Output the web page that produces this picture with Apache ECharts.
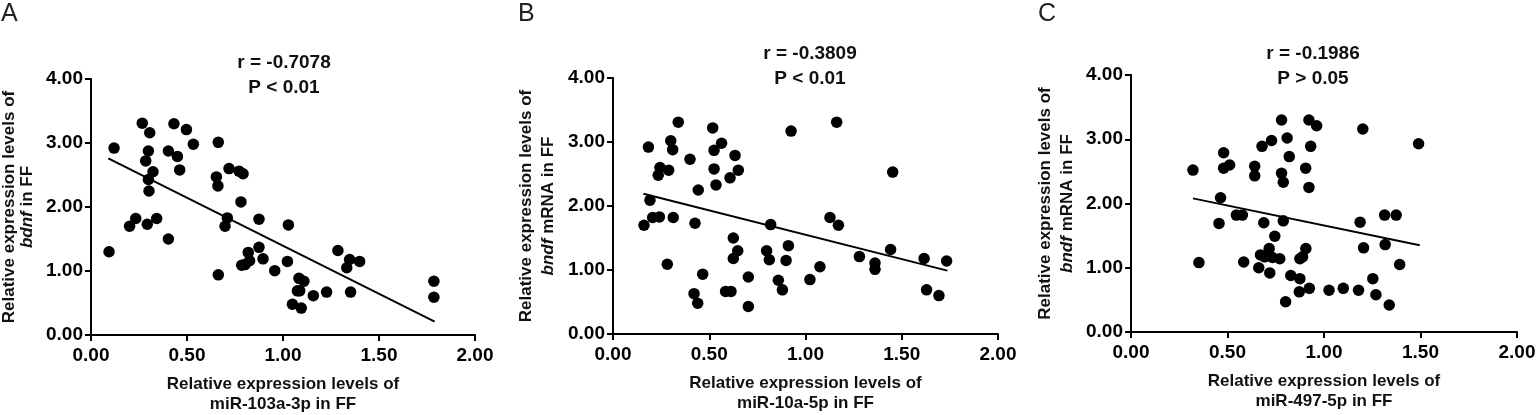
<!DOCTYPE html>
<html>
<head>
<meta charset="utf-8">
<script src="https://cdn.jsdelivr.net/npm/echarts@6/dist/echarts.min.js"></script>
<style>
  html, body { margin: 0; padding: 0; background: #fff; }
  #chart { width: 1536px; height: 415px; }
</style>
</head>
<body>
<div id="chart"></div>
<script>
// panel A: miR-103a-3p vs bdnf
var aX = [0.094, 0.12, 0.267, 0.306, 0.299, 0.285, 0.323, 0.299, 0.302, 0.201, 0.233, 0.293, 0.342, 0.403, 0.432, 0.45, 0.462, 0.497, 0.533, 0.403,
          0.663, 0.653, 0.661, 0.719, 0.771, 0.792, 0.781, 0.71, 0.698, 0.663, 0.875, 0.875, 0.819, 0.826, 0.802, 0.785, 0.896, 0.957, 1.028, 1.023,
          1.083, 1.109, 1.087, 1.075, 1.049, 1.095, 1.158, 1.227, 1.286, 1.347, 1.332, 1.399, 1.352, 1.786, 1.786];
var aY = [1.30, 2.92, 3.31, 3.16, 2.875, 2.72, 2.55, 2.43, 2.25, 1.70, 1.82, 1.73, 1.82, 2.875, 3.30, 2.79, 2.58, 3.21, 2.98, 1.50,
          3.01, 2.47, 2.33, 2.60, 2.56, 2.52, 2.08, 1.83, 1.70, 0.94, 1.81, 1.37, 1.29, 1.16, 1.10, 1.09, 1.19, 1.005, 1.72, 1.15,
          0.885, 0.84, 0.69, 0.69, 0.48, 0.42, 0.615, 0.67, 1.32, 1.18, 1.05, 1.15, 0.67, 0.84, 0.59];
var aFit = [[0.09, 2.76], [1.79, 0.21]];

// panel B: miR-10a-5p vs bndf
var bX = [0.161, 0.184, 0.192, 0.206, 0.241, 0.235, 0.244, 0.289, 0.300, 0.310, 0.313, 0.282, 0.339, 0.400, 0.443, 0.426, 0.421, 0.440, 0.466,
          0.518, 0.525, 0.525, 0.535, 0.564, 0.608, 0.634, 0.651, 0.625, 0.648, 0.625, 0.585, 0.613, 0.703, 0.703, 0.798, 0.812, 0.819,
          0.859, 0.880, 0.899, 0.911, 0.925, 1.023, 1.075, 1.127, 1.162, 1.171, 1.280, 1.361, 1.361, 1.442, 1.453, 1.616, 1.629, 1.693, 1.733];
var bY = [1.70, 2.92, 2.09, 1.82, 1.83, 2.48, 2.60, 2.56, 3.02, 2.88, 1.82, 1.09, 3.31, 2.73, 2.25, 1.73, 0.63, 0.48, 0.935,
          3.22, 2.87, 2.58, 2.33, 2.98, 2.44, 2.79, 2.56, 1.50, 1.30, 1.18, 0.665, 0.665, 0.89, 0.43, 1.30, 1.16, 1.71,
          0.84, 0.69, 1.15, 1.38, 3.17, 0.85, 1.05, 1.82, 3.31, 1.70, 1.21, 1.11, 1.01, 1.32, 2.53, 1.18, 0.69, 0.60, 1.14];
var bFit = [[0.158, 2.19], [1.737, 0.99]];

// panel C: miR-497-5p vs bndf
var cX = [0.321, 0.352, 0.456, 0.464, 0.480, 0.480, 0.511, 0.546, 0.577, 0.584, 0.641, 0.641, 0.662, 0.679, 0.688, 0.671, 0.693, 0.716, 0.719,
          0.728, 0.745, 0.733, 0.771, 0.780, 0.780, 0.789, 0.789, 0.809, 0.820, 0.828, 0.801, 0.875, 0.872, 0.875, 0.889, 0.905, 0.906,
          0.922, 0.931, 0.922, 0.924, 0.962, 1.026, 1.100, 1.179, 1.187, 1.201, 1.205, 1.253, 1.269, 1.314, 1.317, 1.338, 1.374, 1.392, 1.490];
var cY = [2.52, 1.08, 1.69, 2.09, 2.79, 2.55, 2.60, 1.82, 1.82, 1.09, 2.58, 2.43, 1.00, 2.89, 1.70, 1.20, 1.17, 1.30, 0.92,
          2.98, 1.49, 1.16, 1.14, 3.30, 2.47, 2.33, 1.73, 3.02, 2.73, 0.88, 0.47, 0.83, 0.625, 1.14, 1.17, 2.55, 1.30,
          3.30, 2.89, 2.25, 0.68, 3.21, 0.65, 0.68, 0.65, 1.71, 3.16, 1.31, 0.83, 0.58, 1.82, 1.36, 0.42, 1.82, 1.05, 2.93];
var cFit = [[0.321, 2.08], [1.496, 1.35]];

var xTicks = ['0.00', '0.50', '1.00', '1.50', '2.00'];
var yTicks = ['0.00', '1.00', '2.00', '3.00', '4.00'];

var stats = ['r = -0.7078\nP < 0.01', 'r = -0.3809\nP < 0.01', 'r = -0.1986\nP > 0.05'];
var letters = ['A', 'B', 'C'];
var xNames = ['Relative expression levels of\nmiR-103a-3p in FF',
              'Relative expression levels of\nmiR-10a-5p in FF',
              'Relative expression levels of\nmiR-497-5p in FF'];
var yNames = ['{b|Relative expression levels of}\n{i|bdnf}{b| in FF}',
              '{b|Relative expression levels of}\n{i|bndf}{b| mRNA in FF}',
              '{b|Relative expression levels of}\n{i|bndf}{b| mRNA in FF}'];

var font = '"Liberation Sans", Arial, sans-serif';

var grids = [
    {left: 91, top: 79, width: 384, height: 256, outerBoundsMode: 'none'},
    {left: 613, top: 78, width: 385, height: 256, outerBoundsMode: 'none'},
    {left: 1131, top: 75, width: 386, height: 257, outerBoundsMode: 'none'}
];
var statPos = [[284, 50], [810, 41], [1313, 41]];
var letterPos = [[1, 2], [518, 2], [1038, 2]];
var yNameLine = [18, 22, 22];
var yNameGap = [55, 54, 53];

var axisCommon = function () {
    return {
        axisLine: {show: true, lineStyle: {color: '#000', width: 2}},
        axisTick: {show: true, inside: false, length: 6, lineStyle: {color: '#000', width: 2}},
        splitLine: {show: false},
        axisLabel: {color: '#000', fontFamily: font, fontWeight: 'bold', fontSize: 19},
        nameLocation: 'middle'
    };
};

var xAxes = [], yAxes = [], series = [], titles = [];
var pts = [[aX, aY, aFit], [bX, bY, bFit], [cX, cY, cFit]];

for (var i = 0; i < 3; i++) {
    var xa = axisCommon();
    xa.type = 'value';
    xa.gridIndex = i;
    xa.min = 0;
    xa.max = 2;
    xa.interval = 0.5;
    xa.axisLabel.margin = 11;
    xa.axisLabel.formatter = function (v) { return xTicks[Math.round(v / 0.5)]; };
    xa.name = xNames[i];
    xa.nameGap = 39;
    xa.nameTextStyle = {color: '#111', fontFamily: font, fontWeight: 'bold', fontSize: 17, lineHeight: 20};
    xAxes.push(xa);

    var ya = axisCommon();
    ya.type = 'value';
    ya.gridIndex = i;
    ya.min = 0;
    ya.max = 4;
    ya.interval = 1;
    ya.axisLabel.margin = 8;
    ya.axisLabel.formatter = function (v) { return yTicks[Math.round(v)]; };
    ya.name = yNames[i];
    ya.nameRotate = 90;
    ya.nameGap = yNameGap[i];
    ya.nameTextStyle = {
        color: '#111', fontFamily: font, fontWeight: 'bold', fontSize: 17, lineHeight: yNameLine[i],
        rich: {
            b: {fontWeight: 'bold', fontFamily: font, fontSize: 17, color: '#111', lineHeight: yNameLine[i]},
            i: {fontStyle: 'italic', fontWeight: 'bold', fontFamily: font, fontSize: 17, color: '#111', lineHeight: yNameLine[i]}
        }
    };
    yAxes.push(ya);

    var d = [];
    for (var k = 0; k < pts[i][0].length; k++) {
        d.push([pts[i][0][k], pts[i][1][k]]);
    }
    series.push({
        type: 'scatter',
        xAxisIndex: i,
        yAxisIndex: i,
        symbol: 'circle',
        symbolSize: 11.5,
        itemStyle: {color: '#000', opacity: 1},
        data: d,
        z: 3
    });
    series.push({
        type: 'line',
        xAxisIndex: i,
        yAxisIndex: i,
        showSymbol: false,
        symbol: 'none',
        lineStyle: {color: '#000', width: 2},
        data: pts[i][2],
        z: 4
    });

    titles.push({
        text: stats[i],
        left: statPos[i][0],
        top: statPos[i][1],
        textAlign: 'center',
        padding: 0,
        textStyle: {color: '#111', fontFamily: font, fontWeight: 'bold', fontSize: 19, lineHeight: 25}
    });
    titles.push({
        text: letters[i],
        left: letterPos[i][0],
        top: letterPos[i][1],
        padding: 0,
        textStyle: {color: '#222', fontFamily: font, fontWeight: 'normal', fontSize: 25}
    });
}

var chart = echarts.init(document.getElementById('chart'), null, {renderer: 'canvas'});
chart.setOption({
    animation: false,
    backgroundColor: '#fff',
    title: titles,
    grid: grids,
    xAxis: xAxes,
    yAxis: yAxes,
    series: series
});
</script>
</body>
</html>
